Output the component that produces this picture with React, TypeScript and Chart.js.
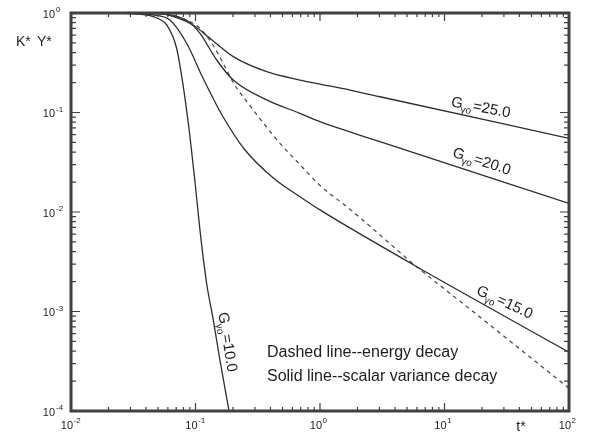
import React, { useEffect, useRef } from 'react';
import { Chart, registerables } from 'chart.js';

Chart.register(...registerables);

// ---- data ----
const xG10 = [0.01, 0.02, 0.03, 0.043, 0.052, 0.0587, 0.0706, 0.0798, 0.0903, 0.0991, 0.1087, 0.123, 0.139, 0.157, 0.186];
const yG10 = [1.0, 0.997, 0.985, 0.94, 0.86, 0.76, 0.44, 0.182, 0.0571, 0.02, 0.0065, 0.0019, 0.00082, 0.000326, 0.0001];

const xG15 = [0.01, 0.02, 0.03, 0.045, 0.0623, 0.0849, 0.1148, 0.1663, 0.25, 0.4217, 0.69, 1.0, 5.98, 9.2, 100];
const yG15 = [1.0, 0.997, 0.99, 0.96, 0.85, 0.496, 0.222, 0.0907, 0.042, 0.022, 0.01425, 0.0105, 0.00282, 0.00207, 0.00039];

const xG20 = [0.01, 0.03, 0.05, 0.07, 0.0903, 0.1087, 0.148, 0.201, 0.373, 0.69, 1.0, 3.03, 100];
const yG20 = [1.0, 0.997, 0.985, 0.93, 0.8, 0.625, 0.337, 0.212, 0.134, 0.098, 0.081, 0.0509, 0.0122];

const xG25 = [0.01, 0.03, 0.05, 0.0706, 0.0955, 0.1306, 0.201, 0.373, 0.69, 1.0, 1.74, 3.03, 100];
const yG25 = [1.0, 0.997, 0.99, 0.9, 0.757, 0.557, 0.364, 0.257, 0.212, 0.193, 0.168, 0.144, 0.055];

const xEnergy = [0.01, 0.03, 0.05, 0.062, 0.085, 0.1087, 0.138, 0.167, 0.201, 0.291, 0.477, 0.69, 1.0, 1.64, 2.23, 5.98, 15.1, 100];
const yEnergy = [1.0, 0.997, 0.98, 0.95, 0.85, 0.7, 0.477, 0.312, 0.2, 0.106, 0.049, 0.03, 0.0185, 0.0113, 0.0082, 0.00282, 0.00112, 0.000169];

const xTickExponents = [-2, -1, 0, 1, 2];
const yTickExponents = [-4, -3, -2, -1, 0];
const minorMultipliers = [2, 3, 4, 5, 6, 7, 8, 9];

const curveLabels = [
  { main: 'G', sub: 'γo', rest: '=25.0', x: 19.6, y: 0.1135, angle: 11 },
  { main: 'G', sub: 'γo', rest: '=20.0', x: 20.0, y: 0.0326, angle: 18 },
  { main: 'G', sub: 'γo', rest: '=15.0', x: 30.6, y: 0.00125, angle: 25 },
  { main: 'G', sub: 'γo', rest: '=10.0', x: 0.1824, y: 0.000493, angle: 81 },
];

const noteLines = ['Dashed line--energy decay', 'Solid line--scalar variance decay'];
const noteAnchor = { x: 0.375, y: 0.000392 };
const yAxisTitleParts = ['K*', 'Y*'];
const xAxisTitle = 't*';

// ---- styles ----
const FONT = '"Liberation Sans", Arial, Helvetica, sans-serif';
const AXIS_COLOR = '#404040';
const TEXT_COLOR = '#1e1e1e';
const LINE_COLOR = '#2e2e2e';

const pts = (xs: number[], ys: number[]) => xs.map((x, i) => ({ x, y: ys[i] }));

const decorPlugin = {
  id: 'decor',
  afterDraw(chart: any) {
    const { ctx, chartArea: a, scales } = chart;
    const xs = scales.x;
    const ys = scales.y;
    ctx.save();

    // inward ticks on all four sides
    ctx.strokeStyle = AXIS_COLOR;
    ctx.lineWidth = 1.2;
    ctx.beginPath();
    for (let i = 0; i < xTickExponents.length; i++) {
      const e = xTickExponents[i];
      const px = xs.getPixelForValue(Math.pow(10, e));
      ctx.moveTo(px, a.bottom); ctx.lineTo(px, a.bottom - 8);
      ctx.moveTo(px, a.top); ctx.lineTo(px, a.top + 8);
      if (i < xTickExponents.length - 1) {
        for (const m of minorMultipliers) {
          const mx = xs.getPixelForValue(m * Math.pow(10, e));
          ctx.moveTo(mx, a.bottom); ctx.lineTo(mx, a.bottom - 4);
          ctx.moveTo(mx, a.top); ctx.lineTo(mx, a.top + 4);
        }
      }
    }
    for (let i = 0; i < yTickExponents.length; i++) {
      const e = yTickExponents[i];
      const py = ys.getPixelForValue(Math.pow(10, e));
      ctx.moveTo(a.left, py); ctx.lineTo(a.left + 9, py);
      ctx.moveTo(a.right, py); ctx.lineTo(a.right - 9, py);
      if (i < yTickExponents.length - 1) {
        for (const m of minorMultipliers) {
          const my = ys.getPixelForValue(m * Math.pow(10, e));
          ctx.moveTo(a.left, my); ctx.lineTo(a.left + 5, my);
          ctx.moveTo(a.right, my); ctx.lineTo(a.right - 5, my);
        }
      }
    }
    ctx.stroke();

    // frame
    ctx.lineWidth = 3;
    ctx.strokeRect(a.left, a.top, a.right - a.left, a.bottom - a.top);

    // tick labels
    ctx.fillStyle = TEXT_COLOR;
    ctx.textBaseline = 'middle';
    for (const e of xTickExponents) {
      const px = xs.getPixelForValue(Math.pow(10, e));
      ctx.font = `11px ${FONT}`;
      ctx.textAlign = 'right';
      ctx.fillText('10', px + 2, a.bottom + 15);
      ctx.font = `8px ${FONT}`;
      ctx.textAlign = 'left';
      ctx.fillText(String(e), px + 2.5, a.bottom + 10);
    }
    for (const e of yTickExponents) {
      const py = ys.getPixelForValue(Math.pow(10, e));
      ctx.font = `11px ${FONT}`;
      ctx.textAlign = 'right';
      ctx.fillText('10', a.left - 16, py + 1.5);
      ctx.font = `8px ${FONT}`;
      ctx.textAlign = 'left';
      ctx.fillText(String(e), a.left - 15, py - 3);
    }

    // axis titles
    ctx.font = `14px ${FONT}`;
    ctx.textAlign = 'left';
    ctx.fillText(yAxisTitleParts[0], a.left - 55, a.top + 29);
    ctx.fillText(yAxisTitleParts[1], a.left - 34, a.top + 29);
    ctx.textAlign = 'center';
    ctx.fillText(xAxisTitle, a.right - 48, a.bottom + 16);

    // curve labels
    for (const lbl of curveLabels) {
      const cx = xs.getPixelForValue(lbl.x);
      const cy = ys.getPixelForValue(lbl.y);
      ctx.save();
      ctx.translate(cx, cy);
      ctx.rotate((lbl.angle * Math.PI) / 180);
      ctx.textBaseline = 'alphabetic';
      ctx.textAlign = 'left';
      ctx.font = `15px ${FONT}`;
      const wMain = ctx.measureText(lbl.main).width;
      const wRest = ctx.measureText(lbl.rest).width;
      ctx.font = `10px ${FONT}`;
      const wSub = ctx.measureText(lbl.sub).width;
      let x = -(wMain + wSub + wRest) / 2;
      ctx.font = `15px ${FONT}`;
      ctx.fillText(lbl.main, x, 5);
      x += wMain - 1;
      ctx.font = `10px ${FONT}`;
      ctx.fillText(lbl.sub, x, 9);
      x += wSub + 1;
      ctx.font = `15px ${FONT}`;
      ctx.fillText(lbl.rest, x, 5);
      ctx.restore();
    }

    // note text
    ctx.font = `16px ${FONT}`;
    ctx.textAlign = 'left';
    ctx.textBaseline = 'middle';
    const nx = xs.getPixelForValue(noteAnchor.x);
    const ny = ys.getPixelForValue(noteAnchor.y);
    noteLines.forEach((t, i) => ctx.fillText(t, nx, ny + 1 + i * 24));

    ctx.restore();
  },
};

export default function App() {
  const ref = useRef<HTMLCanvasElement | null>(null);
  useEffect(() => {
    document.body.style.margin = '0';
    document.body.style.overflow = 'hidden';
    const canvas = ref.current;
    if (!canvas) return;
    const solid = (data: any) => ({
      data,
      borderColor: LINE_COLOR,
      borderWidth: 1.3,
      pointRadius: 0,
      cubicInterpolationMode: 'monotone' as const,
      fill: false,
    });
    const chart = new Chart(canvas, {
      type: 'line',
      data: {
        datasets: [
          { label: 'G10', ...solid(pts(xG10, yG10)) },
          { label: 'G15', ...solid(pts(xG15, yG15)) },
          { label: 'G20', ...solid(pts(xG20, yG20)) },
          { label: 'G25', ...solid(pts(xG25, yG25)) },
          { label: 'energy', ...solid(pts(xEnergy, yEnergy)), borderDash: [4, 4], borderColor: '#444444', borderWidth: 1.2 },
        ],
      },
      options: {
        responsive: false,
        animation: false,
        devicePixelRatio: 1,
        layout: { padding: { left: 71, right: 22, top: 13, bottom: 26 } },
        plugins: { legend: { display: false }, tooltip: { enabled: false } },
        scales: {
          x: { type: 'logarithmic', min: 0.01, max: 100, display: false },
          y: { type: 'logarithmic', min: 0.0001, max: 1, display: false },
        },
      },
      plugins: [decorPlugin],
    });
    return () => chart.destroy();
  }, []);
  return (
    <div style={{ width: 591, height: 437, background: '#fff' }}>
      <canvas ref={ref} width={591} height={437} style={{ display: 'block' }} />
    </div>
  );
}
